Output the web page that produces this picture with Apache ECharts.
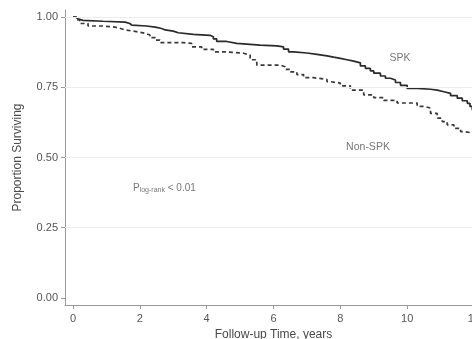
<!DOCTYPE html>
<html><head><meta charset="utf-8">
<script src="https://cdn.jsdelivr.net/npm/echarts@6/dist/echarts.min.js"></script>
<style>html,body{margin:0;padding:0;background:#fff}#c{width:472px;height:339px}</style>
</head><body><div id="c"></div>
<script>
const spkTime = [0,0.08,0.15,0.3,0.9,1.56,1.7,1.76,2.2,2.46,2.65,2.76,3.0,3.15,3.6,4.1,4.2,4.3,4.6,4.9,5.6,6.1,6.3,6.45,6.6,7.0,7.3,7.6,7.8,8.0,8.2,8.4,8.6,8.75,8.9,9.0,9.2,9.35,9.5,9.65,9.8,10.0,10.3,10.7,10.9,11.1,11.3,11.5,11.65,11.8,11.88,11.95,12.05];
const spkSurv = [1.0,0.994,0.988,0.985,0.982,0.977,0.971,0.968,0.964,0.959,0.954,0.950,0.944,0.938,0.935,0.930,0.922,0.913,0.906,0.900,0.897,0.894,0.886,0.876,0.872,0.867,0.862,0.857,0.853,0.848,0.843,0.837,0.826,0.817,0.808,0.800,0.790,0.782,0.776,0.767,0.757,0.746,0.743,0.740,0.734,0.728,0.720,0.711,0.702,0.693,0.682,0.669,0.664];
const nonTime = [0,0.1,0.2,0.45,0.9,1.26,1.4,1.56,1.9,2.16,2.3,2.46,2.6,3.3,3.55,3.85,4.2,4.6,5.1,5.3,5.5,6.2,6.35,6.5,6.7,6.9,7.2,7.6,7.7,8.0,8.3,8.7,9.0,9.3,9.7,10.3,10.5,10.7,10.9,11.05,11.2,11.4,11.6,11.7,12.05];
const nonSurv = [1.0,0.99,0.977,0.968,0.964,0.96,0.954,0.948,0.942,0.936,0.927,0.918,0.909,0.906,0.894,0.885,0.876,0.871,0.865,0.848,0.829,0.823,0.814,0.805,0.795,0.784,0.778,0.770,0.765,0.755,0.740,0.723,0.713,0.703,0.694,0.682,0.676,0.657,0.640,0.628,0.616,0.604,0.592,0.586,0.586];
const xTicks = [0,2,4,6,8,10,12];
const yTicks = [0,0.25,0.5,0.75,1.0];

const font = 'Liberation Sans';
const grey = '#555555';
const chart = echarts.init(document.getElementById('c'), null, {renderer:'canvas'});
chart.setOption({
  animation:false,
  grid:{left:65, top:10, width:417, height:295, outerBoundsMode:'none', containLabel:false},
  xAxis:{type:'value', min:-0.24, max:12.24,
    name:'Follow-up Time, years', nameLocation:'middle', nameGap:23,
    nameTextStyle:{fontFamily:font, fontSize:12, color:'#4a4a4a'},
    axisLine:{show:true, onZero:false, lineStyle:{color:'#9a9a9a', width:1}},
    axisTick:{show:true, length:4, lineStyle:{color:'#9a9a9a'}, customValues:xTicks},
    axisLabel:{fontFamily:font, fontSize:11, color:grey, margin:8, customValues:xTicks, hideOverlap:false},
    splitLine:{show:false}},
  yAxis:{type:'value', min:-0.025, max:1.025,
    name:'Proportion Surviving', nameLocation:'middle', nameGap:41, nameRotate:90,
    nameTextStyle:{fontFamily:font, fontSize:12, color:'#4a4a4a'},
    axisLine:{show:true, onZero:false, lineStyle:{color:'#9a9a9a', width:1}},
    axisTick:{show:true, length:4, lineStyle:{color:'#9a9a9a'}, customValues:yTicks},
    axisLabel:{fontFamily:font, fontSize:11, color:grey, margin:7, customValues:yTicks, formatter:v=>v.toFixed(2)},
    splitLine:{show:false}},
  series:[
    {type:'line', step:'end', showSymbol:false, silent:true,
     data: spkTime.map((t,i)=>[t,spkSurv[i]]),
     lineStyle:{color:'#2a2a2a', width:1.7},
     markLine:{silent:true, symbol:'none', label:{show:false},
       lineStyle:{color:'#ececec', type:'solid', width:1},
       data: yTicks.slice(1).map(v=>({yAxis:v}))},
     z:3},
    {type:'line', step:'end', showSymbol:false, silent:true,
     data: nonTime.map((t,i)=>[t,nonSurv[i]]),
     lineStyle:{color:'#3a3a3a', width:1.7, type:[4,3]}, z:3}
  ],
  graphic:[
    {type:'text', position:[400,58], style:{text:'SPK', font:'10.5px "Liberation Sans"', fill:'#777', align:'center', verticalAlign:'middle'}, silent:true},
    {type:'text', position:[368,147], style:{text:'Non-SPK', font:'10.5px "Liberation Sans"', fill:'#777', align:'center', verticalAlign:'middle'}, silent:true},
    {type:'text', position:[133,182], style:{
      text:'{a|P}{b|log-rank}{a| < 0.01}', fill:'#777',
      rich:{a:{fontFamily:font, fontSize:10, fill:'#777'},
            b:{fontFamily:font, fontSize:7, fill:'#777', padding:[5,0,0,0]}}}, silent:true}
  ]
});
</script></body></html>
